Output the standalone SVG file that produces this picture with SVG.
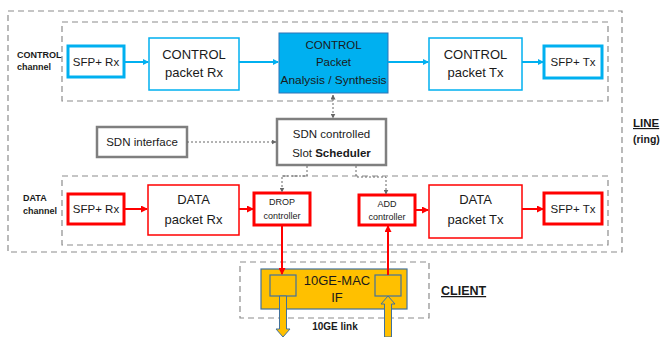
<svg xmlns="http://www.w3.org/2000/svg" width="662" height="337" viewBox="0 0 662 337">
<defs>
<style>
text{font-family:"Liberation Sans",Arial,sans-serif;fill:#1a1a1a}
.t{font-size:13px;text-anchor:middle}
.s{font-size:11.5px;text-anchor:middle}
.xs{font-size:9px;text-anchor:middle}
.b{font-weight:bold}
.dash{fill:none;stroke:#8c8c8c;stroke-width:1.2;stroke-dasharray:6 4}
.bthick{fill:#fff;stroke:#00B0F0;stroke-width:3}
.bthin{fill:#fff;stroke:#00B0F0;stroke-width:1.5}
.rthick{fill:#fff;stroke:#FF0000;stroke-width:3}
.rthin{fill:#fff;stroke:#FF0000;stroke-width:1.5}
.gray{fill:#fff;stroke:#7f7f7f;stroke-width:2.5}
.ba{stroke:#00B0F0;stroke-width:2;fill:none;marker-end:url(#ab)}
.ra{stroke:#FF0000;stroke-width:2;fill:none;marker-end:url(#ar)}
.da{stroke:#666;stroke-width:1;stroke-dasharray:2 2;fill:none;marker-end:url(#ad)}
</style>
<marker id="ab" markerWidth="6" markerHeight="6" refX="5" refY="3" orient="auto" markerUnits="userSpaceOnUse"><path d="M0,0 L6,3 L0,6 z" fill="#00B0F0"/></marker>
<marker id="ar" markerWidth="7" markerHeight="7" refX="6" refY="3.5" orient="auto" markerUnits="userSpaceOnUse"><path d="M0,0 L7,3.5 L0,7 z" fill="#FF0000"/></marker>
<marker id="ad" markerWidth="5" markerHeight="5" refX="4.5" refY="2.5" orient="auto" markerUnits="userSpaceOnUse"><path d="M0,0 L5,2.5 L0,5 z" fill="#666"/></marker>
<marker id="ads" markerWidth="5" markerHeight="5" refX="0.5" refY="2.5" orient="auto" markerUnits="userSpaceOnUse"><path d="M5,0 L0,2.5 L5,5 z" fill="#666"/></marker>
</defs>

<g id="frames">
<rect class="dash" x="8" y="11" width="614" height="241"/>
<rect class="dash" x="62" y="22" width="546" height="79"/>
<rect class="dash" x="62" y="176" width="546" height="69"/>
<rect class="dash" x="240" y="262" width="189" height="56"/>
</g>

<g id="labels">
<text class="b" x="17" y="58" font-size="9">CONTROL</text>
<text class="b" x="17" y="70" font-size="9">channel</text>
<text class="b" x="23" y="201" font-size="9">DATA</text>
<text class="b" x="23" y="214" font-size="9">channel</text>
<text class="b" x="633" y="127" font-size="11.5" text-decoration="underline">LINE</text>
<text class="b" x="633" y="143" font-size="10.5">(ring)</text>
<text class="b" x="441" y="295" font-size="12.5" text-decoration="underline">CLIENT</text>
<text class="b" x="335" y="330" font-size="10" text-anchor="middle">10GE link</text>
</g>

<g id="ctrl-sfp-rx"><rect class="bthick" x="68" y="46" width="56" height="31"/><text class="s" x="96" y="66">SFP+ Rx</text></g>
<g id="ctrl-pkt-rx"><rect class="bthin" x="149" y="38" width="90" height="52"/><text class="t" x="194" y="59">CONTROL</text><text class="t" x="194" y="77">packet Rx</text></g>
<g id="ctrl-analysis"><rect x="279" y="33" width="109" height="60" fill="#00B0F0" stroke="#2E75B6" stroke-width="1"/><text class="s" x="333.5" y="49">CONTROL</text><text class="s" x="333.5" y="66">Packet</text><text class="s" x="333.5" y="84" textLength="106" lengthAdjust="spacingAndGlyphs">Analysis / Synthesis</text></g>
<g id="ctrl-pkt-tx"><rect class="bthin" x="429" y="38" width="93" height="52"/><text class="t" x="475.5" y="59">CONTROL</text><text class="t" x="475.5" y="77">packet Tx</text></g>
<g id="ctrl-sfp-tx"><rect class="bthick" x="544" y="46" width="58" height="32"/><text class="s" x="573" y="66">SFP+ Tx</text></g>

<g id="sdn-if"><rect class="gray" x="97" y="127" width="90" height="30"/><text class="s" x="142" y="146">SDN interface</text></g>
<g id="scheduler"><rect class="gray" x="277" y="119" width="109" height="46"/><text class="s" x="331.5" y="138">SDN controlled</text><text class="s" x="331.5" y="157">Slot <tspan font-weight="bold">Scheduler</tspan></text></g>

<g id="data-sfp-rx"><rect class="rthick" x="68" y="194" width="56" height="30"/><text class="s" x="96" y="213">SFP+ Rx</text></g>
<g id="data-pkt-rx"><rect class="rthin" x="148" y="185" width="91" height="50"/><text class="t" x="193.5" y="204">DATA</text><text class="t" x="193.5" y="224">packet Rx</text></g>
<g id="drop"><rect class="rthick" x="254" y="193" width="56" height="32"/><text class="xs" x="282" y="205">DROP</text><text class="xs" x="282" y="219">controller</text></g>
<g id="add"><rect class="rthick" x="359" y="195" width="56" height="30"/><text class="xs" x="387" y="207">ADD</text><text class="xs" x="387" y="220">controller</text></g>
<g id="data-pkt-tx"><rect class="rthin" x="429" y="185" width="93" height="53"/><text class="t" x="475.5" y="204">DATA</text><text class="t" x="475.5" y="224">packet Tx</text></g>
<g id="data-sfp-tx"><rect class="rthick" x="544" y="193" width="58" height="31"/><text class="s" x="573" y="213">SFP+ Tx</text></g>

<g id="mac">
<rect x="261" y="269" width="146" height="40" fill="#FFC000" stroke="#41719C" stroke-width="1.2"/>
<rect x="270" y="275" width="26" height="21" fill="#FFC000" stroke="#41719C" stroke-width="1.2"/>
<rect x="375" y="275" width="26" height="21" fill="#FFC000" stroke="#41719C" stroke-width="1.2"/>
<text class="t" x="337" y="285">10GE-MAC</text>
<text class="t" x="337" y="302">IF</text>
</g>

<g id="connectors">
<path class="ba" d="M124,62 H148"/>
<path class="ba" d="M239,62 H278"/>
<path class="ba" d="M388,62 H428"/>
<path class="ba" d="M522,62 H543"/>
<path class="da" d="M187,142 H276"/>
<path class="da" d="M333,95 V118" marker-start="url(#ads)"/>
<path class="da" d="M307,166 V176 H282 V192"/>
<path class="da" d="M356,166 V177 H386 V194"/>
<path class="ra" d="M124,209 H147"/>
<path class="ra" d="M239,209 H253"/>
<path class="ra" d="M415,210 H428"/>
<path class="ra" d="M522,209 H543"/>
<path class="ra" d="M282,225 V274"/>
<path class="ra" d="M388,275 V226"/>
<path d="M279.5,296 V329 H276 L283,337 L290,329 H286.5 V296 Z" fill="#FFC000" stroke="#41719C" stroke-width="1"/>
<path d="M384.5,337 V304 H381 L388,296 L395,304 H391.5 V337 Z" fill="#FFC000" stroke="#41719C" stroke-width="1"/>
</g>
</svg>
